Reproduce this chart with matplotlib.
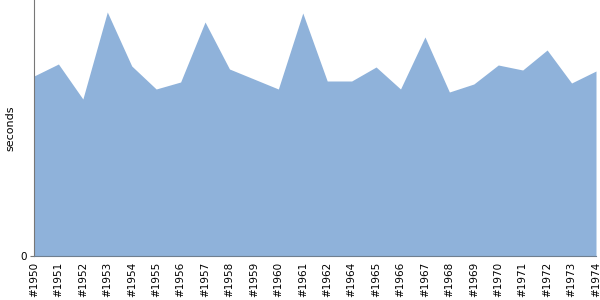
import numpy as np
import matplotlib
matplotlib.use('Agg')
import matplotlib.pyplot as plt

labels = ['#1950', '#1951', '#1952', '#1953', '#1954', '#1955', '#1956', '#1957',
          '#1958', '#1959', '#1960', '#1961', '#1962', '#1964', '#1965', '#1966',
          '#1967', '#1968', '#1969', '#1970', '#1971', '#1972', '#1973', '#1974']
seconds = [180, 192, 157, 244, 190, 167, 174, 234, 187, 177, 167, 243,
           175, 175, 189, 167, 219, 164, 172, 191, 186, 206, 173, 185]

fig = plt.figure(figsize=(6, 3), dpi=100)
ax = fig.add_axes([34 / 600, 44 / 300, 562 / 600, 256 / 300])

x = np.arange(len(labels))
ax.fill_between(x, seconds, 0, color='#8fb2da', linewidth=0)

ax.set_xlim(x[0], x[-1])
ax.set_ylim(0, 256)
ax.set_xticks(x)
ax.set_xticklabels(labels, rotation=90, fontsize=7.5)
ax.set_yticks([0])
ax.set_yticklabels(['0'], fontsize=7.5)
ax.set_ylabel('seconds', fontsize=8)
ax.tick_params(axis='x', length=0, pad=4)
ax.tick_params(axis='y', length=3, color='#777777', pad=2)

for s in ['top', 'right']:
    ax.spines[s].set_visible(False)
ax.spines['left'].set_color('#777777')
ax.spines['bottom'].set_color('#6f7f90')

fig.savefig('out.png', dpi=100)
